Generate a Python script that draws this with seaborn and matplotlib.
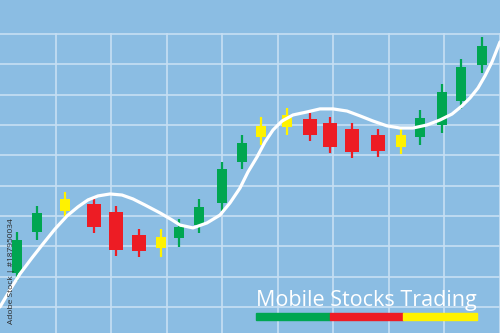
import numpy as np
import pandas as pd
import seaborn as sns
import matplotlib
matplotlib.use("Agg")
import matplotlib.pyplot as plt
from matplotlib.patches import Rectangle

# ---- data ----
pos = [0.306, 0.667, 1.171, 1.694, 2.09, 2.505, 2.90, 3.225, 3.586, 4.0, 4.36,
       4.70, 5.17, 5.585, 5.946, 6.342, 6.81, 7.225, 7.568, 7.964, 8.306, 8.685]
body_top = [32.1, 41.0, 45.6, 43.96, 41.3, 33.7, 33.1, 36.2, 43.0, 55.5, 64.1,
            69.7, 73.3, 72.0, 70.7, 68.7, 66.7, 66.7, 72.3, 80.9, 89.1, 96.0]
body_bot = [21.2, 34.7, 41.6, 36.4, 28.8, 28.5, 29.4, 32.6, 37.0, 44.3, 57.8,
            66.0, 69.3, 66.7, 62.7, 61.1, 61.4, 62.7, 66.0, 70.0, 77.9, 89.8]
high = [34.7, 43.3, 47.9, 45.9, 43.3, 35.7, 35.7, 39.0, 45.6, 57.8, 66.7,
        72.6, 75.6, 74.0, 72.6, 70.7, 68.7, 69.3, 75.0, 83.5, 91.8, 99.0]
low = [18.6, 32.1, 39.0, 34.4, 26.8, 26.5, 26.5, 29.8, 34.4, 41.6, 55.5,
       63.4, 66.7, 64.7, 60.8, 59.1, 59.5, 60.4, 63.4, 67.4, 75.3, 87.1]
kind = ["up", "up", "flat", "down", "down", "down", "flat", "up", "up", "up", "up",
        "flat", "flat", "down", "down", "down", "down", "flat", "up", "up", "up", "up"]

trend_x = [0, 0.18, 0.36, 0.577, 0.775, 0.991, 1.207, 1.405, 1.586, 1.766, 1.982,
           2.198, 2.396, 2.613, 2.883, 3.099, 3.243, 3.477, 3.730, 3.964, 4.144,
           4.324, 4.468, 4.631, 4.775, 4.919, 5.081, 5.279, 5.532, 5.766, 6.0,
           6.252, 6.486, 6.721, 6.973, 7.207, 7.441, 7.694, 7.928, 8.144, 8.324,
           8.468, 8.613, 8.739, 8.865, 9.009]
trend_y = [10.0, 15.6, 20.9, 26.2, 30.8, 35.7, 40.0, 43.0, 45.3, 46.6, 47.25,
           46.9, 45.6, 43.6, 41.0, 38.7, 37.0, 36.05, 37.7, 40.3, 44.3,
           49.2, 54.5, 59.45, 64.4, 68.35, 71.3, 73.3, 74.3, 75.3, 75.3,
           74.6, 73.0, 71.3, 69.7, 69.0, 69.0, 70.0, 71.65, 73.6, 76.3,
           78.9, 82.2, 86.2, 90.8, 97.4]

title = "Mobile Stocks Trading"
credit = "Adobe Stock | #187950034"

# ---- style ----
BG = "#8bbde3"
GRID = "#c6dff3"
COLORS = {"up": "#00a651", "down": "#ed1c24", "flat": "#fff200"}
WIDTHS = {"up": 0.18, "down": 0.25, "flat": 0.19}

sns.set_theme(style="white")
plt.rcParams["font.family"] = ["Open Sans", "DejaVu Sans"]

fig = plt.figure(figsize=(5.0, 3.33), dpi=100, facecolor=BG)
ax = fig.add_axes([0, 0, 1, 300 / 333])
ax.set_facecolor(BG)
ax.set_xlim(0, 9.009)
ax.set_ylim(1.4, 100.33)
ax.set_xticks(range(1, 10))
ax.set_yticks(range(10, 101, 10))
ax.tick_params(length=0, labelbottom=False, labelleft=False)
ax.grid(True, color=GRID, linewidth=1.2)
for s in ax.spines.values():
    s.set_visible(False)

df = pd.DataFrame({"pos": pos, "top": body_top, "bot": body_bot,
                   "high": high, "low": low, "kind": kind})

for k, g in df.groupby("kind"):
    ax.vlines(g["pos"], g["low"], g["high"], color=COLORS[k], linewidth=1.6, zorder=3)
    ax.bar(g["pos"], g["top"] - g["bot"], bottom=g["bot"], width=WIDTHS[k],
           color=COLORS[k], edgecolor="none", zorder=4)

sns.lineplot(x=trend_x, y=trend_y, ax=ax, color="white", linewidth=2.3,
             sort=False, zorder=5, clip_on=False,
             solid_joinstyle="round", solid_capstyle="round")

fig.text(256 / 500, 1 - 306 / 333, title, color="white", fontsize=15.5,
         ha="left", va="baseline", family=["Open Sans", "DejaVu Sans"])

bar_colors = ["#00a651", "#ed1c24", "#fff200"]
bar_edges = [256, 330, 403, 477]
for i, c in enumerate(bar_colors):
    fig.add_artist(Rectangle((bar_edges[i] / 500, 1 - 320 / 333),
                             (bar_edges[i + 1] - bar_edges[i]) / 500, 7 / 333,
                             transform=fig.transFigure, color=c, zorder=6))

fig.text(12 / 500, 1 - 324 / 333, credit, rotation=90, fontsize=6,
         color="#2a2a2a", ha="center", va="bottom")

fig.savefig("out.png", dpi=100, facecolor=BG)
